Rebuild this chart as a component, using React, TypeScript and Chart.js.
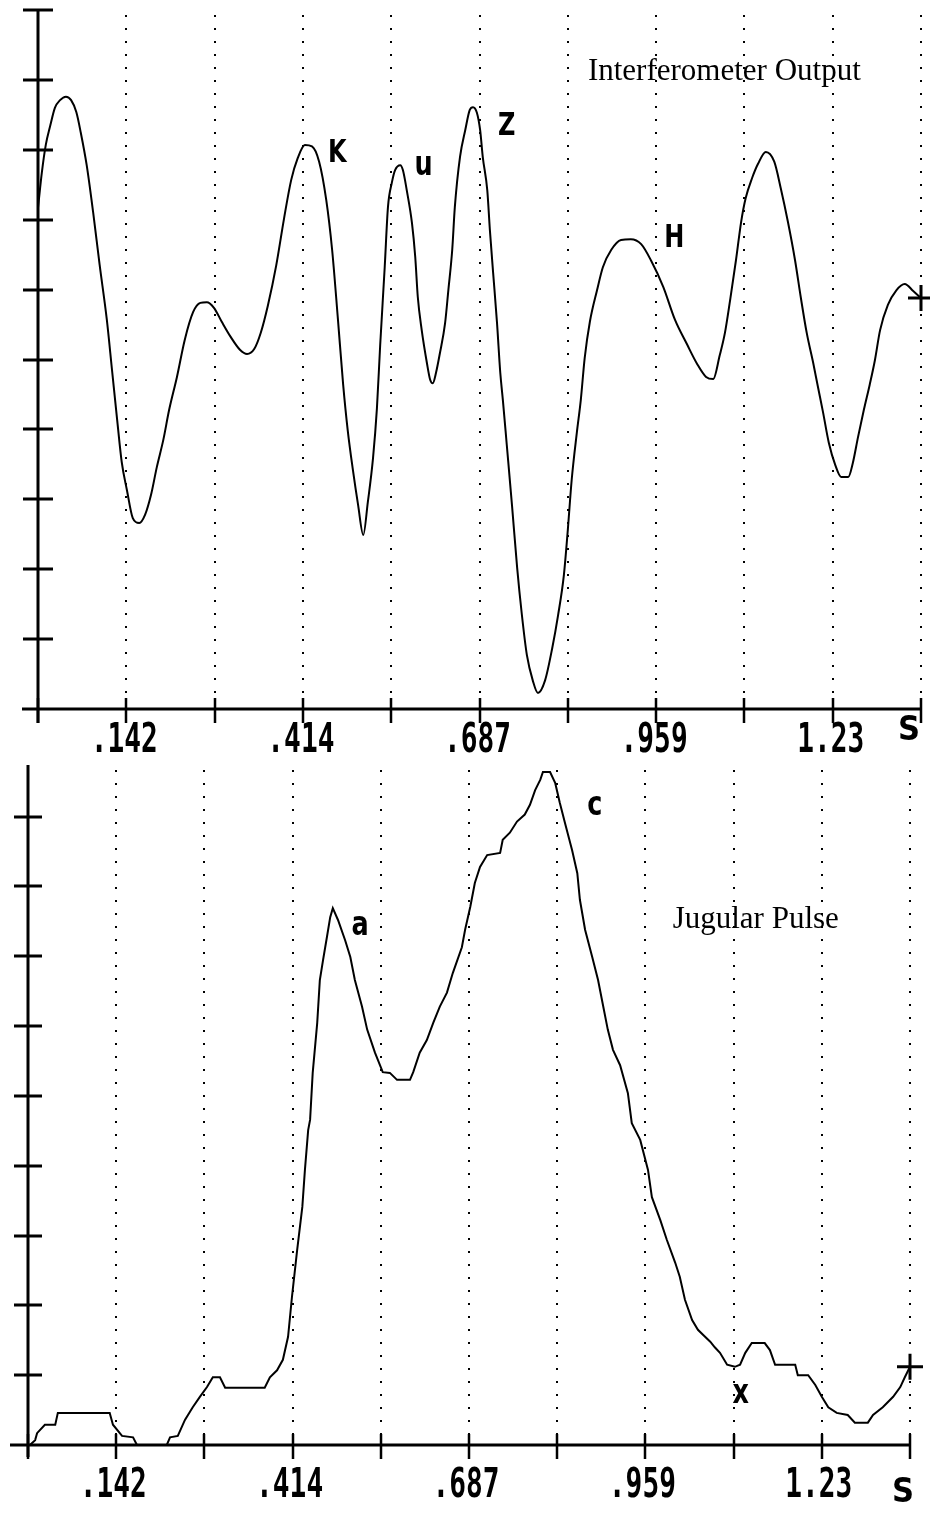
import React, { useEffect, useRef } from 'react';
import { Chart, registerables } from 'chart.js';

Chart.register(...registerables);

// ---- axis description (seconds) ----
const X_MIN = 0.006;
const X_MAX = 1.366;
const GRID_TIMES = [0.142, 0.278, 0.414, 0.55, 0.686, 0.822, 0.958, 1.094, 1.23, 1.366];
const TICK_TIMES = [0.142, 0.414, 0.686, 0.958, 1.23];
const TICK_LABELS = ['.142', '.414', '.687', '.959', '1.23'];
const UNIT_TIME = 1.366;
const UNIT_LABEL = 'S';

const TOP_Y_MAX = 10;
const TOP_Y_TICKS = [1, 2, 3, 4, 5, 6, 7, 8, 9, 10];
const BOTTOM_Y_MAX = 9.74;
const BOTTOM_Y_TICKS = [1, 2, 3, 4, 5, 6, 7, 8, 9];

const TOP_TITLE = 'Interferometer Output';
const BOTTOM_TITLE = 'Jugular Pulse';

// ---- series: [time (s), amplitude (divisions)] ----
const INTERFEROMETER: [number, number][] = [
  [0.006, 7.17], [0.012, 7.68], [0.018, 8.07], [0.025, 8.35], [0.032, 8.6], [0.04, 8.71], [0.049, 8.76],
  [0.057, 8.71], [0.065, 8.54], [0.072, 8.24], [0.081, 7.78], [0.091, 7.1], [0.101, 6.35], [0.112, 5.57],
  [0.12, 4.85], [0.128, 4.13], [0.135, 3.53], [0.143, 3.13], [0.152, 2.73], [0.162, 2.66], [0.171, 2.78],
  [0.18, 3.06], [0.189, 3.46], [0.199, 3.85], [0.208, 4.28], [0.22, 4.75], [0.232, 5.28], [0.245, 5.68],
  [0.256, 5.81], [0.266, 5.82], [0.277, 5.74], [0.289, 5.54], [0.303, 5.32], [0.317, 5.14], [0.328, 5.08],
  [0.339, 5.15], [0.349, 5.38], [0.36, 5.77], [0.373, 6.35], [0.385, 7.02], [0.396, 7.57], [0.406, 7.88],
  [0.417, 8.07], [0.428, 8.05], [0.439, 7.83], [0.45, 7.28], [0.459, 6.57], [0.468, 5.57], [0.476, 4.64],
  [0.483, 3.99], [0.491, 3.42], [0.499, 2.92], [0.507, 2.49], [0.514, 2.96], [0.522, 3.59], [0.528, 4.3],
  [0.533, 5.2], [0.54, 6.32], [0.545, 7.18], [0.551, 7.53], [0.556, 7.71], [0.564, 7.78], [0.568, 7.71],
  [0.574, 7.42], [0.582, 6.95], [0.587, 6.47], [0.591, 5.89], [0.597, 5.42], [0.605, 4.95], [0.61, 4.71],
  [0.614, 4.66], [0.619, 4.81], [0.625, 5.09], [0.633, 5.52], [0.638, 5.99], [0.644, 6.57], [0.648, 7.18],
  [0.656, 7.9], [0.664, 8.28], [0.671, 8.57], [0.676, 8.61], [0.682, 8.53], [0.687, 8.28], [0.691, 7.9],
  [0.698, 7.42], [0.702, 6.85], [0.707, 6.24], [0.713, 5.52], [0.718, 4.81], [0.722, 4.42], [0.728, 3.78],
  [0.736, 2.92], [0.744, 2.02], [0.751, 1.37], [0.759, 0.77], [0.768, 0.41], [0.776, 0.23], [0.787, 0.41],
  [0.798, 0.87], [0.807, 1.34], [0.816, 1.92], [0.822, 2.56], [0.828, 3.28], [0.836, 3.96], [0.842, 4.42],
  [0.848, 5.02], [0.856, 5.54], [0.867, 5.99], [0.876, 6.32], [0.889, 6.57], [0.904, 6.71], [0.919, 6.72],
  [0.935, 6.65], [0.95, 6.42], [0.969, 6.04], [0.987, 5.57], [1.006, 5.21], [1.021, 4.94], [1.035, 4.75],
  [1.046, 4.72], [1.056, 5.06], [1.064, 5.38], [1.072, 5.85], [1.081, 6.42], [1.089, 6.97], [1.096, 7.31],
  [1.106, 7.6], [1.115, 7.8], [1.127, 7.97], [1.14, 7.83], [1.15, 7.45], [1.161, 6.97], [1.172, 6.42],
  [1.181, 5.88], [1.19, 5.38], [1.2, 4.95], [1.207, 4.62], [1.215, 4.25], [1.224, 3.81], [1.234, 3.49],
  [1.243, 3.32], [1.254, 3.32], [1.261, 3.52], [1.269, 3.89], [1.278, 4.28], [1.287, 4.64], [1.295, 4.99],
  [1.303, 5.42], [1.315, 5.78], [1.328, 5.99], [1.341, 6.08], [1.354, 5.98], [1.366, 5.88],
];

const JUGULAR: [number, number][] = [
  [0.006, 0], [0.009, 0], [0.017, 0.07], [0.02, 0.17], [0.032, 0.29], [0.048, 0.29], [0.052, 0.46],
  [0.132, 0.46], [0.137, 0.29], [0.151, 0.13], [0.168, 0.11], [0.174, 0], [0.22, 0], [0.225, 0.11],
  [0.237, 0.13], [0.248, 0.36], [0.26, 0.54], [0.271, 0.69], [0.282, 0.83], [0.291, 0.97], [0.302, 0.97],
  [0.31, 0.82], [0.371, 0.82], [0.379, 0.97], [0.39, 1.07], [0.399, 1.22], [0.407, 1.55], [0.413, 2.12],
  [0.421, 2.79], [0.429, 3.41], [0.433, 3.94], [0.438, 4.51], [0.441, 4.66], [0.445, 5.33], [0.452, 6.05],
  [0.456, 6.66], [0.461, 6.95], [0.467, 7.28], [0.472, 7.56], [0.476, 7.69], [0.484, 7.52], [0.495, 7.23],
  [0.503, 6.99], [0.51, 6.66], [0.521, 6.28], [0.529, 5.95], [0.541, 5.62], [0.553, 5.34], [0.564, 5.33],
  [0.575, 5.23], [0.595, 5.23], [0.6, 5.34], [0.61, 5.62], [0.621, 5.8], [0.631, 6.05], [0.641, 6.28],
  [0.652, 6.48], [0.661, 6.76], [0.675, 7.13], [0.68, 7.38], [0.688, 7.71], [0.695, 8.05], [0.703, 8.28],
  [0.714, 8.45], [0.734, 8.48], [0.738, 8.67], [0.749, 8.77], [0.76, 8.93], [0.772, 9.03], [0.78, 9.17],
  [0.788, 9.38], [0.796, 9.53], [0.8, 9.64], [0.811, 9.64], [0.819, 9.48], [0.826, 9.2], [0.834, 8.91],
  [0.845, 8.52], [0.853, 8.19], [0.857, 7.81], [0.865, 7.38], [0.876, 6.99], [0.885, 6.66], [0.893, 6.28],
  [0.9, 5.95], [0.908, 5.66], [0.919, 5.44], [0.931, 5.04], [0.937, 4.61], [0.95, 4.37], [0.962, 3.94],
  [0.968, 3.55], [0.981, 3.22], [0.991, 2.94], [1.004, 2.61], [1.011, 2.41], [1.019, 2.08], [1.03, 1.79],
  [1.039, 1.65], [1.05, 1.55], [1.058, 1.48], [1.065, 1.4], [1.073, 1.32], [1.084, 1.15], [1.096, 1.12],
  [1.104, 1.15], [1.112, 1.32], [1.122, 1.46], [1.142, 1.46], [1.15, 1.36], [1.158, 1.15], [1.189, 1.15],
  [1.193, 1.0], [1.209, 1.0], [1.22, 0.86], [1.23, 0.69], [1.24, 0.54], [1.253, 0.46], [1.27, 0.43],
  [1.281, 0.32], [1.301, 0.32], [1.309, 0.43], [1.324, 0.54], [1.34, 0.69], [1.351, 0.83], [1.358, 0.97],
  [1.366, 1.12],
];

// ---- hand-written wave labels: [text, time, baseline amplitude] ----
const TOP_MARKS: [string, number, number][] = [
  ['K', 0.467, 7.83],
  ['u', 0.6, 7.64],
  ['Z', 0.728, 8.21],
  ['H', 0.986, 6.61],
];
const BOTTOM_MARKS: [string, number, number][] = [
  ['a', 0.518, 7.31],
  ['c', 0.88, 9.03],
  ['x', 1.105, 0.6],
];
// title position: [left time, baseline amplitude]
const TOP_TITLE_POS: [number, number] = [0.853, 9.0];
const BOTTOM_TITLE_POS: [number, number] = [1.0, 7.41];

type PanelCfg = {
  yTicks: number[];
  xAxisLeftExt: number;
  yAxisBelow: number;
  yTickHalf: number;
  digitBaseline: number;
  digitShift: number;
  unitBaseline: number;
  unitShift: number;
  title: string;
  titlePos: [number, number];
  marks: [string, number, number][];
};

function scaledText(ctx: CanvasRenderingContext2D, text: string, x: number, y: number, font: string, sx: number, align: CanvasTextAlign) {
  ctx.save();
  ctx.translate(x, y);
  ctx.scale(sx, 1);
  ctx.font = font;
  ctx.textAlign = align;
  ctx.textBaseline = 'alphabetic';
  ctx.fillStyle = '#000';
  ctx.fillText(text, 0, 0);
  ctx.restore();
}

function panelPlugin(cfg: PanelCfg) {
  return {
    id: 'panelDecor',
    beforeDatasetsDraw(chart: any) {
      const { ctx, chartArea, scales } = chart;
      const x = scales.x;
      ctx.save();
      ctx.strokeStyle = '#000';
      ctx.lineWidth = 2;
      ctx.setLineDash([2, 11]);
      for (const t of GRID_TIMES) {
        const px = Math.round(x.getPixelForValue(t));
        ctx.beginPath();
        ctx.moveTo(px, chartArea.top + 5);
        ctx.lineTo(px, chartArea.bottom);
        ctx.stroke();
      }
      ctx.restore();
    },
    afterDatasetsDraw(chart: any) {
      const { ctx, chartArea, scales } = chart;
      const x = scales.x;
      const y = scales.y;
      const x0 = Math.round(x.getPixelForValue(X_MIN));
      const xEnd = Math.round(x.getPixelForValue(X_MAX));
      const y0 = Math.round(y.getPixelForValue(0));
      ctx.save();
      ctx.strokeStyle = '#000';
      ctx.lineWidth = 3;
      ctx.setLineDash([]);
      // axis lines
      ctx.beginPath();
      ctx.moveTo(x0 - cfg.xAxisLeftExt, y0);
      ctx.lineTo(xEnd + 1, y0);
      ctx.moveTo(x0, chartArea.top);
      ctx.lineTo(x0, y0 + cfg.yAxisBelow);
      ctx.stroke();
      // x ticks
      ctx.lineWidth = 2.5;
      ctx.beginPath();
      for (const t of [X_MIN, ...GRID_TIMES]) {
        const px = Math.round(x.getPixelForValue(t));
        ctx.moveTo(px, y0 - 11);
        ctx.lineTo(px, y0 + 14);
      }
      ctx.stroke();
      // y ticks
      ctx.lineWidth = 3;
      ctx.beginPath();
      for (const v of cfg.yTicks) {
        const py = Math.round(y.getPixelForValue(v));
        ctx.moveTo(x0 - cfg.yTickHalf, py);
        ctx.lineTo(x0 + cfg.yTickHalf, py);
      }
      ctx.stroke();
      ctx.restore();

      // tick labels
      TICK_TIMES.forEach((t, i) => {
        const px = x.getPixelForValue(t) + cfg.digitShift;
        scaledText(ctx, TICK_LABELS[i], px, y0 + cfg.digitBaseline, 'bold 41px "DejaVu Sans Mono"', 0.68, 'center');
      });
      scaledText(ctx, UNIT_LABEL, x.getPixelForValue(UNIT_TIME) + cfg.unitShift, y0 + cfg.unitBaseline, 'bold 34px "DejaVu Sans"', 0.9, 'center');

      // title
      ctx.save();
      ctx.font = '31px "Liberation Serif"';
      ctx.fillStyle = '#000';
      ctx.textAlign = 'left';
      ctx.textBaseline = 'alphabetic';
      ctx.fillText(cfg.title, x.getPixelForValue(cfg.titlePos[0]), y.getPixelForValue(cfg.titlePos[1]));
      ctx.restore();

      // wave labels
      for (const [txt, t, v] of cfg.marks) {
        const lower = txt === txt.toLowerCase();
        scaledText(ctx, txt, x.getPixelForValue(t), y.getPixelForValue(v), lower ? 'bold 34px "DejaVu Sans"' : 'bold 32px "DejaVu Sans"', 0.75, 'center');
      }
    },
  };
}

function makeConfig(series: [number, number][], yMax: number, padding: any, smooth: boolean, cfg: PanelCfg): any {
  const last = series.length - 1;
  return {
    type: 'line',
    data: {
      datasets: [
        {
          data: series.map(([t, v]) => ({ x: t, y: v })),
          borderColor: '#000',
          borderWidth: 2,
          fill: false,
          tension: smooth ? 0.4 : 0,
          cubicInterpolationMode: smooth ? 'monotone' : 'default',
          pointStyle: 'cross',
          pointRadius: (c: any) => (c.dataIndex === last ? 13 : 0),
          pointBorderWidth: 3,
          pointBorderColor: '#000',
          clip: false,
        },
      ],
    },
    options: {
      animation: false,
      responsive: false,
      maintainAspectRatio: false,
      layout: { padding, autoPadding: false },
      scales: {
        x: { type: 'linear', min: X_MIN, max: X_MAX, display: false },
        y: { type: 'linear', min: 0, max: yMax, display: false },
      },
      plugins: { legend: { display: false }, tooltip: { enabled: false }, title: { display: false } },
      events: [],
    },
    plugins: [panelPlugin(cfg)],
  };
}

export default function App() {
  const topRef = useRef<HTMLCanvasElement>(null);
  const bottomRef = useRef<HTMLCanvasElement>(null);

  useEffect(() => {
    const top = new Chart(
      topRef.current as HTMLCanvasElement,
      makeConfig(INTERFEROMETER, TOP_Y_MAX, { left: 38, right: 9, top: 10, bottom: 51 }, true, {
        yTicks: TOP_Y_TICKS,
        xAxisLeftExt: 16,
        yAxisBelow: 14,
        yTickHalf: 15,
        digitBaseline: 43,
        digitShift: -2,
        unitBaseline: 31,
        unitShift: -12,
        title: TOP_TITLE,
        titlePos: TOP_TITLE_POS,
        marks: TOP_MARKS,
      })
    );
    const bottom = new Chart(
      bottomRef.current as HTMLCanvasElement,
      makeConfig(JUGULAR, BOTTOM_Y_MAX, { left: 28, right: 20, top: 5, bottom: 68 }, false, {
        yTicks: BOTTOM_Y_TICKS,
        xAxisLeftExt: 18,
        yAxisBelow: 12,
        yTickHalf: 14,
        digitBaseline: 52,
        digitShift: -3,
        unitBaseline: 57,
        unitShift: -7,
        title: BOTTOM_TITLE,
        titlePos: BOTTOM_TITLE_POS,
        marks: BOTTOM_MARKS,
      })
    );
    return () => {
      top.destroy();
      bottom.destroy();
    };
  }, []);

  return (
    <div style={{ position: 'absolute', left: 0, top: 0, width: 930, height: 1513, background: '#fff' }}>
      <canvas ref={topRef} width={930} height={760} style={{ position: 'absolute', left: 0, top: 0 }} />
      <canvas ref={bottomRef} width={930} height={753} style={{ position: 'absolute', left: 0, top: 760 }} />
    </div>
  );
}
